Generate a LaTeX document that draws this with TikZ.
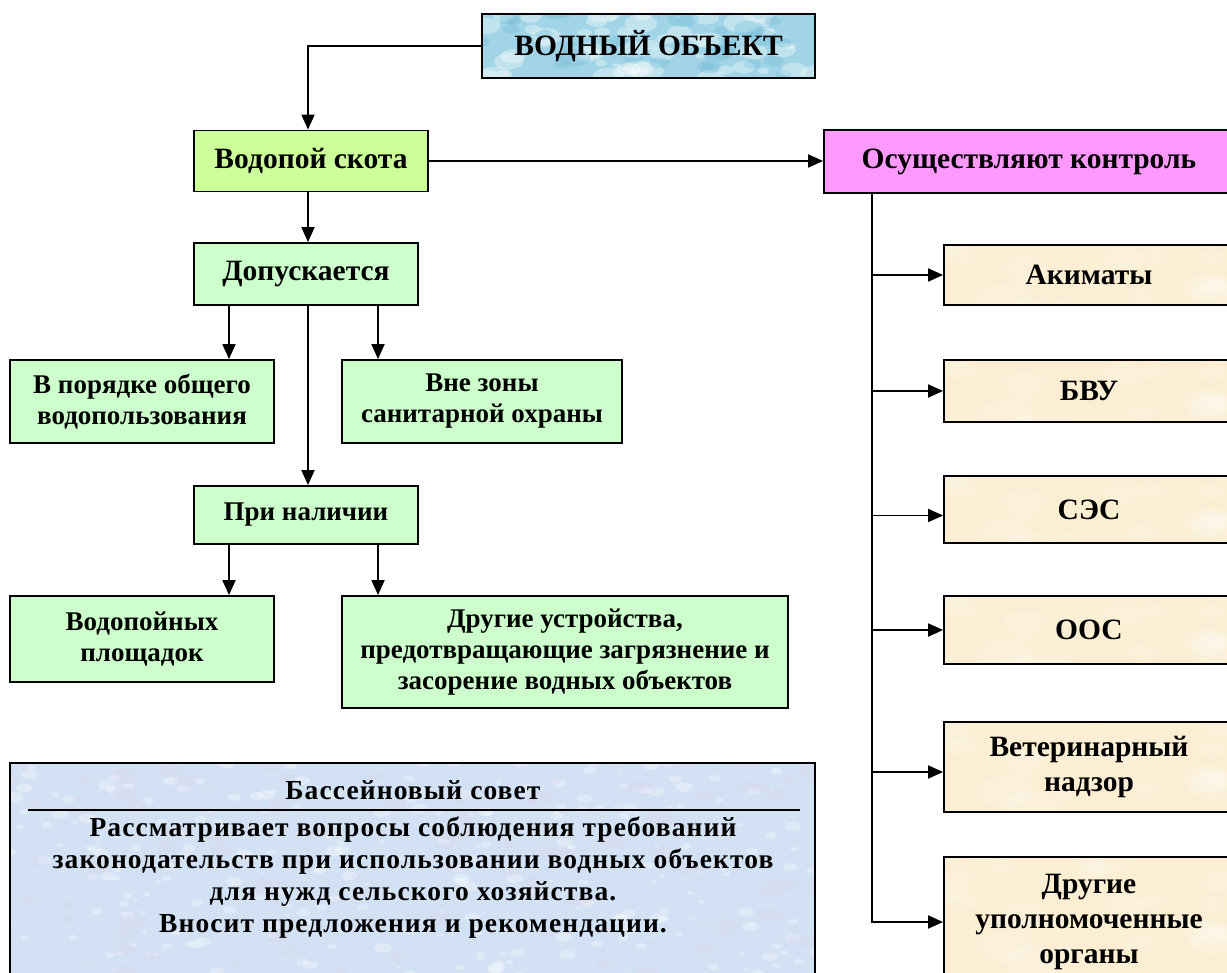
\documentclass[tikz,border=0pt]{standalone}
\usepackage{fontspec}
\setmainfont{Liberation Serif}
\usetikzlibrary{arrows.meta}
\definecolor{waterblue}{RGB}{160,212,230}
\definecolor{waterdark}{RGB}{110,185,215}
\definecolor{palegreen}{RGB}{204,255,204}
\definecolor{limegreen}{RGB}{204,255,153}
\definecolor{pinkbox}{RGB}{255,153,255}
\definecolor{beige}{RGB}{251,238,210}
\definecolor{paleblue}{RGB}{210,225,243}
\definecolor{lavender}{RGB}{222,214,238}
\newcommand{\blotches}[6]{% count, width, height, minr, maxr, colour/opacity
  \pgfmathsetseed{#1}%
  \foreach \i in {1,...,#1}{%
    \pgfmathsetmacro\dx{(rnd-0.5)*#2}%
    \pgfmathsetmacro\dy{(rnd-0.5)*#3}%
    \pgfmathsetmacro\rr{#4+rnd*(#5-#4)}%
    \fill[#6] ([shift={(\dx,\dy)}]path picture bounding box.center) ellipse ({\rr} and {\rr*0.55});}}
\begin{document}
\begin{tikzpicture}[x=1pt,y=-1pt,
  box/.style={draw=black, line width=1.8pt, inner sep=0pt, align=center,
    font=\bfseries\fontsize{27}{31}\selectfont},
  bigbox/.style={box, font=\bfseries\fontsize{29.5}{33}\selectfont},
  rbox/.style={box, fill=beige, minimum width=290pt,
    font=\bfseries\fontsize{29.5}{35}\selectfont,
    path picture={\blotches{25}{290}{130}{8}{30}{white,opacity=0.18}}},
  watertex/.style={path picture={\blotches{60}{340}{70}{4}{18}{white,opacity=0.35}
      \blotches{31}{340}{70}{5}{16}{waterdark,opacity=0.3}}},
  bstex/.style={path picture={\blotches{301}{810}{240}{2}{9}{white,opacity=0.3}
      \blotches{120}{810}{240}{4}{14}{lavender,opacity=0.3}}},
  bstext/.style={font=\bfseries\fontsize{27.5}{32}\selectfont\addfontfeatures{LetterSpace=4},
    align=center, inner sep=0pt},
  arr/.style={line width=1.8pt, -{Triangle[length=15pt,width=13pt]}}]
\useasboundingbox (0,0) rectangle (1227,973);
\fill[white] (0,0) rectangle (1227,973);

% top
\node[bigbox, fill=waterblue, watertex, minimum width=333pt, minimum height=64pt] (vo) at (648.5,46)
  {ВОДНЫЙ ОБЪЕКТ};
\node[bigbox, fill=limegreen, minimum width=234pt, minimum height=61pt] (vs) at (311,161) {Водопой скота};
\node[bigbox, fill=pinkbox, minimum width=410pt, minimum height=63pt] (ok) at (1029,161.5) {Осуществляют контроль};

% left column
\node[bigbox, fill=palegreen, minimum width=224pt, minimum height=62pt] (dop) at (306,274) {Допускается};
\node[box, fill=palegreen, minimum width=264pt, minimum height=83pt] (vp) at (142,401.5) {В порядке общего\\водопользования};
\node[box, fill=palegreen, minimum width=280pt, minimum height=83pt] (vz) at (482,401.5) {Вне зоны\\санитарной охраны};
\node[box, fill=palegreen, minimum width=224pt, minimum height=58pt] (pn) at (306,515) {При наличии};
\node[box, fill=palegreen, minimum width=264pt, minimum height=86pt] (vpl) at (142,639) {Водопойных\\площадок};
\node[box, fill=palegreen, minimum width=446pt, minimum height=112pt] (du) at (565,652)
  {Другие устройства,\\предотвращающие загрязнение и\\засорение водных объектов};

% bottom box
\node[box, fill=paleblue, bstex, minimum width=805pt, minimum height=234pt] (bs) at (412.5,880) {};
\node[bstext] (bsh) at (413,790) {Бассейновый совет};
\draw[line width=1.8pt] (28,810) -- (800,810);
\node[bstext] (bst) at (413,878)
  {Рассматривает вопросы соблюдения требований\\
   законодательств при использовании водных объектов\\
   для нужд сельского хозяйства.\\
   Вносит предложения и рекомендации.};

% right column
\node[rbox, minimum height=60pt] (ak) at (1089,275) {Акиматы};
\node[rbox, minimum height=62pt] (bvu) at (1089,391) {БВУ};
\node[rbox, minimum height=67pt] (ses) at (1089,509.5) {СЭС};
\node[rbox, minimum height=68pt] (oos) at (1089,630) {ООС};
\node[rbox, minimum height=90pt] (vet) at (1089,767) {Ветеринарный\\надзор};
\node[rbox, minimum height=130pt] (dr) at (1089,922) {Другие\\уполномоченные\\органы};

% connectors
\coordinate (xa) at (229,0);
\coordinate (xm) at (308,0);
\coordinate (xb) at (378,0);
\coordinate (xt) at (872,0);
\draw[arr] (vo.west) -| (vs.north -| xm);
\draw[arr] (vs.east) -- (vs.east -| ok.west);
\draw[arr] (vs.south -| xm) -- (dop.north -| xm);
\draw[arr] (dop.south -| xa) -- (vp.north -| xa);
\draw[arr] (dop.south -| xb) -- (vz.north -| xb);
\draw[arr] (dop.south -| xm) -- (pn.north -| xm);
\draw[arr] (pn.south -| xa) -- (vpl.north -| xa);
\draw[arr] (pn.south -| xb) -- (du.north -| xb);

\draw[arr] (ok.south -| xt) |- (dr.west);
\draw[arr] (xt |- ak.west) -- (ak.west);
\draw[arr] (xt |- bvu.west) -- (bvu.west);
\draw[arr] ([yshift=-6pt]xt |- ses.west) -- ([yshift=-6pt]ses.west);
\draw[arr] (xt |- oos.west) -- (oos.west);
\draw[arr] ([yshift=-5pt]xt |- vet.west) -- ([yshift=-5pt]vet.west);
\end{tikzpicture}
\end{document}
